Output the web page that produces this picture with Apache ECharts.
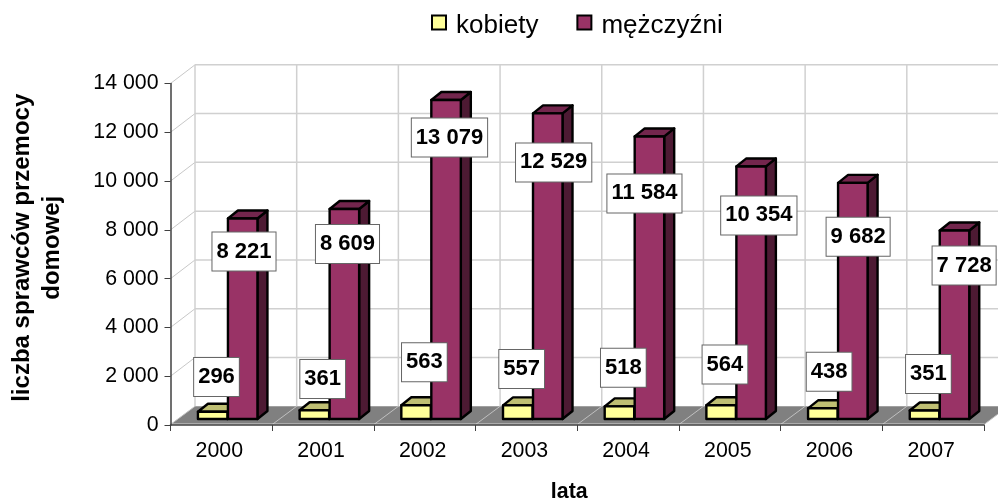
<!DOCTYPE html>
<html>
<head>
<meta charset="utf-8">
<style>
  html, body { margin: 0; padding: 0; background: #fff; }
  #main { width: 998px; height: 499px; }
</style>
<script src="https://cdn.jsdelivr.net/npm/echarts@6/dist/echarts.min.js"></script>
</head>
<body>
<div id="main"></div>
<script>
const lata = ['2000', '2001', '2002', '2003', '2004', '2005', '2006', '2007'];
const kobiety = [296, 361, 563, 557, 518, 564, 438, 351];
const mezczyzni = [8221, 8609, 13079, 12529, 11584, 10354, 9682, 7728];
const yTicks = [0, 2000, 4000, 6000, 8000, 10000, 12000, 14000];

// label boxes were moved by hand in the original, so each one has its own shift (px)
const kobietyLabelDx = [3.8, 8.3, 8.3, 3.9, 3.9, 3.8, 6.3, 3.9];
const kobietyLabelDy = [-34.8, -31.2, -43, -36.4, -38.6, -40.7, -36.5, -36.4];
const mezczyzniLabelDx = [1.3, 3.1, 3.4, 5.9, -5, 7.7, 5.3, 9.6];
const mezczyzniLabelDy = [33, 35, 37.5, 49, 57, 49, 54, 35];

// fake 3d: depth of the chart box and of a single bar
const WALL_DX = 24.5, WALL_DY = -18.7;
const BAR_DX = 10, BAR_DY = -8, BASE_DY = -6;
const BAR_W = 29.5;
const FONT = '"Liberation Sans", Arial, sans-serif';

const fmt = v => String(v).replace(/\B(?=(\d{3})+$)/g, ' ');
const toData = arr => arr.map((v, i) => [i, v]);

function renderWalls(params, api) {
  const children = [];
  const line = (x1, y1, x2, y2, color, w) => children.push({
    type: 'line',
    shape: { x1, y1, x2, y2 },
    style: { stroke: color, lineWidth: w }
  });
  const y0 = api.coord([0, 0])[1];
  const band = api.size([1, 0])[0];
  const left = api.coord([0, 0])[0] - band / 2;
  const right = left + band * lata.length;

  children.push({
    type: 'polygon',
    shape: { points: [[left, y0 - 0.5], [left + WALL_DX, y0 + WALL_DY], [right + WALL_DX, y0 + WALL_DY], [right, y0 - 0.5]] },
    style: { fill: '#808080' }
  });
  yTicks.forEach(t => {
    const y = api.coord([0, t])[1];
    if (t > 0) {
      line(left, y, left + WALL_DX, y + WALL_DY, '#c8c8c8', 1);
      line(left + WALL_DX, y + WALL_DY, right + WALL_DX, y + WALL_DY, '#d0d0d0', 1.5);
    }
  });
  for (let i = 0; i <= lata.length; i++) {
    const x = left + band * i;
    const top = api.coord([0, yTicks[yTicks.length - 1]])[1];
    line(x + WALL_DX, top + WALL_DY, x + WALL_DX, y0 + WALL_DY, '#d0d0d0', 1.5);
    line(x, y0 - 0.5, x + WALL_DX, y0 + WALL_DY, '#c0c0c0', 1);
  }
  line(left, y0 - 1, right, y0 - 1, '#d8d8d8', 1);
  return { type: 'group', children };
}

function barRenderer(xOffset, front, topColor, side) {
  return function (params, api) {
    const i = api.value(0);
    const base = api.coord([i, 0]);
    const topY = api.coord([i, api.value(1)])[1] + BASE_DY;
    const botY = base[1] + BASE_DY;
    const x = base[0] + xOffset;
    const stroke = { stroke: '#000', lineWidth: 2.4, lineJoin: 'round' };
    return {
      type: 'group',
      children: [
        {
          type: 'polygon',
          shape: { points: [[x + BAR_W, topY], [x + BAR_W + BAR_DX, topY + BAR_DY], [x + BAR_W + BAR_DX, botY + BAR_DY], [x + BAR_W, botY]] },
          style: Object.assign({ fill: side }, stroke)
        },
        {
          type: 'polygon',
          shape: { points: [[x, topY], [x + BAR_DX, topY + BAR_DY], [x + BAR_W + BAR_DX, topY + BAR_DY], [x + BAR_W, topY]] },
          style: Object.assign({ fill: topColor }, stroke)
        },
        {
          type: 'rect',
          shape: { x, y: topY, width: BAR_W, height: botY - topY },
          style: Object.assign({ fill: front }, stroke)
        }
      ]
    };
  };
}

function labelSeries(name, values, xOffset, dxs, dys) {
  return {
    name,
    type: 'custom',
    z: 6,
    silent: true,
    data: toData(values),
    encode: { x: 0, y: 1 },
    renderItem: function (params, api) {
      const i = api.value(0);
      const c = api.coord([i, api.value(1)]);
      return {
        type: 'text',
        x: c[0] + xOffset + BAR_W / 2 + dxs[i],
        y: c[1] + BASE_DY + dys[i],
        style: {
          text: fmt(api.value(1)),
          font: 'bold 22px ' + FONT,
          fill: '#000',
          align: 'center',
          verticalAlign: 'middle',
          backgroundColor: '#fff',
          borderColor: '#666',
          borderWidth: 1,
          padding: [8, 4, 8, 4]
        }
      };
    }
  };
}

const WOMEN_X = -23.4, MEN_X = 6.6;

const chart = echarts.init(document.getElementById('main'), null, { renderer: 'canvas' });
chart.setOption({
  animation: false,
  backgroundColor: '#fff',
  textStyle: { fontFamily: FONT },
  legend: {
    data: ['kobiety', 'mężczyźni'],
    left: 426,
    top: 8,
    icon: 'rect',
    itemWidth: 14,
    itemHeight: 14,
    itemGap: 38,
    itemStyle: { borderColor: '#000', borderWidth: 2 },
    formatter: n => '{t|' + n + '}',
    textStyle: {
      rich: { t: { fontSize: 26, color: '#000', fontFamily: FONT, padding: [7, 0, 0, 5] } }
    }
  },
  grid: { left: 170.5, top: 83.5, width: 813.5, height: 341.5, outerBoundsMode: 'none' },
  xAxis: {
    type: 'category',
    data: lata,
    z: 5,
    name: 'lata',
    nameLocation: 'middle',
    nameGap: 57,
    nameTextStyle: { fontSize: 21.33, fontWeight: 'bold', color: '#000', fontFamily: FONT, padding: [0, 16, 0, 0] },
    axisLine: { lineStyle: { color: '#404040', width: 1.5 } },
    axisTick: { show: true, length: 6, lineStyle: { color: '#404040', width: 1 } },
    axisLabel: { fontSize: 21.33, color: '#000', margin: 16, padding: [0, 4, 0, 0], fontFamily: FONT }
  },
  yAxis: {
    type: 'value',
    min: 0,
    max: 14000,
    interval: 2000,
    z: 5,
    name: 'liczba sprawców przemocy\ndomowej',
    nameLocation: 'middle',
    nameRotate: 90,
    nameGap: 103,
    nameTextStyle: { fontSize: 24, fontWeight: 'bold', color: '#000', fontFamily: FONT, lineHeight: 30, padding: [0, 0, 0, 13] },
    splitLine: { show: false },
    axisLine: { show: true, lineStyle: { color: '#404040', width: 1.5 } },
    axisTick: { show: true, length: 6, lineStyle: { color: '#404040', width: 1 } },
    axisLabel: { fontSize: 21.33, color: '#000', margin: 12, fontFamily: FONT, formatter: v => fmt(v) }
  },
  series: [
    {
      name: 'tlo',
      type: 'custom',
      z: 1,
      silent: true,
      data: [[0, 0]],
      encode: { x: 0, y: 1 },
      renderItem: renderWalls
    },
    {
      name: 'kobiety',
      type: 'custom',
      z: 2,
      itemStyle: { color: '#FFFF99' },
      data: toData(kobiety),
      encode: { x: 0, y: 1 },
      renderItem: barRenderer(WOMEN_X, '#FFFF99', '#BFBF73', '#BFBF73')
    },
    {
      name: 'mężczyźni',
      type: 'custom',
      z: 3,
      itemStyle: { color: '#993366' },
      data: toData(mezczyzni),
      encode: { x: 0, y: 1 },
      renderItem: barRenderer(MEN_X, '#993366', '#73264D', '#4D1A33')
    },
    labelSeries('etykiety kobiety', kobiety, WOMEN_X, kobietyLabelDx, kobietyLabelDy),
    labelSeries('etykiety mężczyźni', mezczyzni, MEN_X, mezczyzniLabelDx, mezczyzniLabelDy)
  ]
});
</script>
</body>
</html>
